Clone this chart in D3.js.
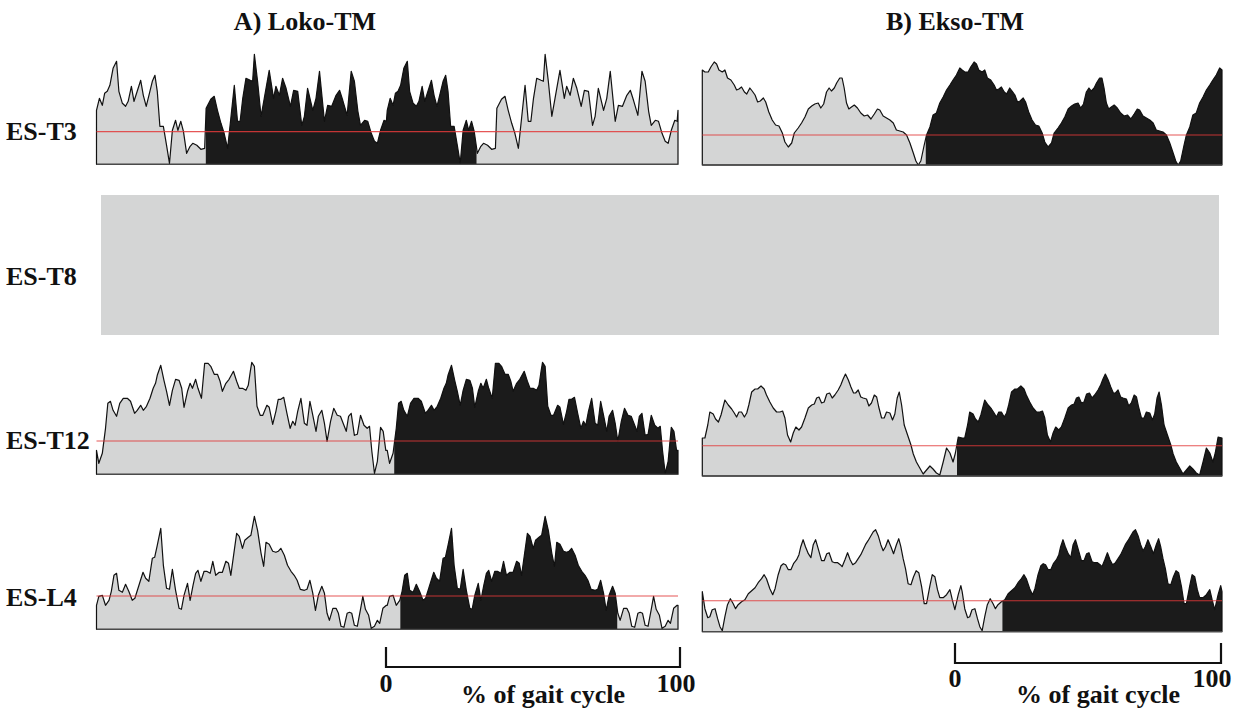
<!DOCTYPE html>
<html>
<head>
<meta charset="utf-8">
<script src="https://cdn.jsdelivr.net/npm/d3@7"></script>
<style>
body { margin: 0; background: #fff; }
text { font-family: "Liberation Serif", "Times New Roman", serif; font-weight: bold; fill: #111; }
</style>
</head>
<body>
<svg class="fig" width="1234" height="709"></svg>
<script>
// one gait cycle per muscle, [% of gait cycle, EMG amplitude]
var lokoT3 = [[0,54],[1,66],[2,59],[2.8,71],[3.7,73],[4.6,79],[5.7,96],[6.9,103],[7.7,73],[8.9,61],[10,58],[10.9,63],[12,78],[12.9,63],[14,73],[15.2,84],[16.1,69],[17.1,58],[18.2,71],[19.2,83],[20.1,89],[20.9,73],[21.8,38],[23,38],[24.1,19],[25.1,1],[26.1,34],[27.2,44],[28,34],[29,43],[29.9,33],[31,11],[32.2,18],[33.1,21],[34.5,19],[35.9,15],[37.2,16],[37.7,56],[39.3,65],[40.5,68],[41.6,54],[42.8,41],[43.9,31],[45.1,16],[46.2,46],[47.4,79],[48.5,43],[49.4,43],[50.3,66],[51.4,86],[52.9,84],[53.7,83],[54.3,110],[55.4,83],[56.6,48],[57.7,66],[59.4,94],[60.9,66],[61.7,78],[62.9,69],[64,86],[65.2,76],[66.7,58],[67.8,74],[69.2,73],[70.6,39],[71.5,48],[72.6,76],[74.4,54],[75.5,66],[76.7,93],[78.4,43],[79.5,59],[80.9,58],[82.4,69],[83.6,74],[84.7,64],[86.2,49],[87.6,93],[88.7,83],[89.9,53],[90.8,39],[92.2,44],[93.3,43],[94.5,31],[95.6,23],[96.6,21],[97.7,34],[98.9,44],[99.7,43]];

var lokoT12 = [[0,24],[0.8,11],[2,21],[3.1,46],[3.9,71],[4.8,73],[5.7,64],[6.9,58],[8,71],[9.2,76],[10.6,76],[11.7,73],[13.1,61],[14,64],[15.2,69],[16.1,64],[17.2,68],[18.4,76],[19.5,86],[20.3,91],[20.9,99],[22.1,109],[23.2,94],[24.1,83],[25.1,69],[26.1,84],[27.2,95],[28.4,94],[29.3,86],[30.1,67],[31.3,83],[32.2,91],[33,86],[34.1,95],[34.9,86],[36.1,76],[37.2,111],[38.4,111],[39.3,108],[40.5,100],[41.6,100],[42.5,93],[43.3,83],[44.5,91],[45.6,95],[47.1,103],[48.2,93],[49.1,86],[50.2,86],[51.4,84],[52.2,89],[52.9,103],[53.4,112],[54.3,108],[55.2,68],[56.3,59],[57.2,59],[58.6,69],[59.4,67],[60.6,50],[61.7,63],[62.5,75],[63.4,75],[64.4,77],[65.5,61],[66.6,46],[67.5,53],[68.3,49],[69.2,63],[70.3,76],[71.5,51],[72.4,49],[73.4,73],[74.4,59],[75.5,43],[76.3,58],[77.5,64],[78.4,51],[79.3,33],[80.5,53],[81.6,66],[82.8,59],[83.9,58],[85.1,49],[85.9,43],[86.7,58],[87.6,61],[88.7,39],[89.7,40],[90.8,59],[92,49],[93.1,46],[93.9,48],[94.7,23],[95.6,1],[96.6,13],[97.7,47],[98.6,43],[99.5,24]];

var lokoL4 = [[0,24],[0.8,33],[2,34],[3.1,24],[4.3,29],[5.1,38],[6,54],[6.9,56],[7.7,39],[8.9,37],[10,45],[11.1,38],[12.3,29],[13.2,31],[14.6,44],[16,57],[16.9,51],[18,48],[19.2,71],[20,72],[20.9,84],[22.1,101],[23,64],[24.1,41],[25.1,40],[26.1,60],[27.2,39],[28.4,21],[29.2,20],[30.1,34],[31.3,46],[32.2,29],[33.2,44],[34.1,56],[34.9,59],[35.9,48],[37,58],[37.9,58],[39.1,56],[40,68],[41,54],[42.2,57],[43.3,57],[44.5,68],[45.4,66],[46.2,54],[47.1,73],[48.2,96],[49.1,93],[50.2,81],[51,89],[52.2,92],[53.1,94],[54.3,113],[55.4,99],[56.6,76],[57.5,63],[58.3,87],[59.4,85],[60.6,78],[61.7,77],[62.5,78],[63.4,81],[64.6,74],[65.7,64],[66.9,58],[68,54],[69,49],[70.1,40],[71.5,39],[72.4,40],[73.4,49],[74.4,36],[75.3,19],[76.3,34],[77.5,43],[78.4,36],[79.3,16],[80.1,9],[81.3,21],[82.4,21],[83.2,16],[84.1,3],[85.1,2],[86.2,16],[87,17],[87.8,16],[88.7,4],[89.7,3],[90.8,20],[91.6,33],[92.5,20],[93.6,14],[94.5,1],[95.6,3],[96.6,9],[97.4,6],[98.5,21],[99.7,24]];

var eksoT3 = [[0,95],[1,93],[2.3,93],[3.3,98],[4.6,103],[5.5,101],[6.4,95],[7.7,93],[8.7,95],[9.7,87],[11,85],[12.3,80],[13.2,75],[14.1,76],[15.1,78],[16.2,73],[17.1,71],[18.3,77],[19.2,74],[20.3,70],[21.3,63],[22.3,64],[23.5,67],[24.4,63],[25.6,53],[26.9,45],[28.2,40],[29.5,39],[30.8,32],[31.8,23],[33.1,18],[34.4,22],[35.4,32],[36.9,37],[38.2,42],[39.5,48],[40.8,56],[42.1,59],[43.3,61],[44.6,62],[45.6,57],[46.7,61],[47.8,73],[48.8,77],[49.7,74],[50.8,77],[51.7,82],[52.9,87],[53.8,87],[54.6,77],[55.5,62],[56.4,56],[57.4,58],[58.5,60],[59.7,57],[61,52],[62.3,49],[63.6,50],[64.9,46],[66.2,51],[67.4,56],[68.3,55],[69.6,49],[70.9,47],[72.2,45],[73.5,42],[74.7,35],[76,34],[77.3,33],[78.6,30],[79.9,22],[81.2,12],[82.2,4],[83.1,0],[84.1,4],[85.4,20],[86.3,30],[87.6,38],[88.8,50],[90.1,52],[91.4,62],[92.7,68],[94,75],[95.3,80],[96.5,85],[97.8,90],[99.1,97]];

var eksoT12 = [[0,38],[1,38],[2.1,51],[2.9,64],[4.2,62],[5.1,57],[6.2,54],[7.2,61],[8.7,76],[10,71],[11.3,67],[12.3,63],[13.2,59],[14.1,64],[15.1,64],[16.2,59],[17.1,63],[17.9,71],[19,84],[20.3,87],[21.3,87],[22.6,90],[23.8,87],[24.7,81],[26,74],[27.3,68],[28.6,64],[29.9,64],[30.9,65],[31.8,58],[32.8,41],[34,34],[35,43],[36,49],[37.2,46],[38.2,49],[39.5,58],[40.8,68],[42.1,71],[43.1,72],[44,78],[44.9,79],[45.9,73],[46.9,74],[47.9,82],[49,83],[50,78],[51,81],[52.3,86],[53.3,91],[54.2,97],[55.1,102],[56.2,96],[57.2,89],[58.2,83],[59,83],[60,86],[61,79],[61.9,78],[63.2,77],[64.1,70],[65.1,73],[66.2,81],[67.1,79],[67.9,69],[69,58],[70,58],[70.9,64],[72.2,63],[73.2,56],[74.1,62],[75,78],[75.8,84],[76.7,71],[77.7,51],[79,41],[80.3,31],[81.2,22],[82.4,14],[83.7,8],[85,2],[86.3,6],[87.6,10],[88.8,7],[90.1,3],[91.4,1],[92.7,14],[94,28],[95.3,23],[96.5,14],[97.4,23],[98.5,39]];

var eksoL4 = [[0,40],[1,23],[2.1,14],[2.9,15],[3.8,22],[4.9,23],[5.9,13],[6.8,5],[7.7,1],[8.7,15],[9.7,27],[10.8,33],[11.9,28],[12.8,23],[13.8,27],[15.1,30],[16.4,32],[17.7,38],[19,41],[20.3,44],[21.5,49],[22.8,53],[23.8,57],[24.7,53],[26,43],[27.1,37],[28,43],[29.2,57],[30.3,66],[31.2,68],[32.1,67],[33.1,62],[34.1,62],[35.1,68],[36.3,72],[37.2,77],[37.9,85],[38.8,92],[39.7,85],[40.8,78],[41.8,74],[42.7,87],[43.6,92],[44.6,83],[45.9,71],[46.9,71],[47.9,78],[48.8,79],[50,70],[51,69],[52.1,69],[53.1,67],[53.8,65],[54.9,72],[55.9,79],[56.9,72],[57.9,67],[59,69],[60,73],[61,77],[61.9,82],[62.8,87],[63.8,91],[64.9,96],[65.8,100],[66.7,102],[67.7,96],[68.7,87],[69.6,81],[70.5,85],[71.5,92],[72.6,85],[73.6,78],[74.7,87],[75.6,93],[76.4,85],[77.3,73],[78.2,63],[79.2,48],[80.3,47],[81.3,55],[82.3,61],[83.3,59],[84.4,45],[85.4,28],[86.3,28],[87.6,46],[88.5,57],[89.5,55],[90.5,42],[91.4,34],[92.7,34],[94,37],[95.3,42],[96.2,32],[97.2,22],[98.5,37],[99.5,46]];

// red reference level per trace (same units as the traces)
var refLevels = [32.7, 33.3, 33.3, 30, 30.3, 31];
// dark shaded phase, in % over the two plotted cycles (0-200)
var phaseFrom = [37.6, 102.4, 104.5, 86, 98, 115.5];
var phaseTo = [130.7, 200, 179.1, 200, 200, 200];

var titles = ["A) Loko-TM", "B) Ekso-TM"];
var rowNames = ["ES-T3", "ES-T8", "ES-T12", "ES-L4"];
var barTicks = [0, 100];

var svg = d3.select(".fig");
var grey = "#d4d5d5", dark = "#1b1b1b";

var cols = [
  {x0: 96.5, x1: 678, title: 305, bar: [386, 680], barY: 667, labelY: 692, endShift: 4},
  {x0: 702.3, x1: 1222, title: 955, bar: [955, 1221], barY: 663, labelY: 687, endShift: 9}
];

var panels = [
  {data: lokoT3, col: 0, base: 164.3},
  {data: lokoT12, col: 0, base: 474.3},
  {data: lokoL4, col: 0, base: 629.3},
  {data: eksoT3, col: 1, base: 165},
  {data: eksoT12, col: 1, base: 476},
  {data: eksoL4, col: 1, base: 631.7}
];

var defs = svg.append("defs");

panels.forEach(function(p, i) {
  var c = cols[p.col];
  var x = d3.scaleLinear().domain([0, 200]).range([c.x0, c.x1]);
  var y = d3.scaleLinear().domain([0, 120]).range([p.base, p.base - 120]);

  // two gait cycles one after the other
  var series = p.data.map(function(d) { return [d[0], d[1]]; })
    .concat(p.data.map(function(d) { return [d[0] + 100, d[1]]; }))
    .concat([[200, p.data[0][1]]]);

  var area = d3.area()
    .x(function(d) { return x(d[0]); })
    .y0(y(0))
    .y1(function(d) { return y(d[1]); });

  var g = svg.append("g");

  g.append("path").datum(series)
    .attr("fill", grey)
    .attr("d", area);

  defs.append("clipPath").attr("id", "ph" + i)
    .append("rect")
      .attr("x", x(phaseFrom[i]))
      .attr("width", x(phaseTo[i]) - x(phaseFrom[i]))
      .attr("y", y(130))
      .attr("height", y(0) - y(130));

  g.append("path").datum(series)
    .attr("fill", dark)
    .attr("clip-path", "url(#ph" + i + ")")
    .attr("d", area);

  g.append("path").datum(series)
    .attr("fill", "none")
    .attr("stroke", "#111")
    .attr("stroke-width", 1.2)
    .attr("stroke-linejoin", "round")
    .attr("d", area);

  g.append("line")
    .attr("x1", x(0)).attr("x2", x(200))
    .attr("y1", y(0)).attr("y2", y(0))
    .attr("stroke", "#4a4a4a")
    .attr("stroke-width", 1.3);

  g.append("line")
    .attr("x1", x(0)).attr("x2", x(200))
    .attr("y1", y(refLevels[i])).attr("y2", y(refLevels[i]))
    .attr("stroke", "#e23a3a")
    .attr("stroke-opacity", 0.85)
    .attr("stroke-width", 1.1);
});

// ES-T8: no recording, grey block over both columns
svg.append("rect")
  .attr("x", 101).attr("y", 195)
  .attr("width", 1118).attr("height", 140)
  .attr("fill", grey);

// column titles
svg.selectAll(".title").data(titles).enter().append("text")
  .attr("class", "title")
  .attr("x", function(d, i) { return cols[i].title; })
  .attr("y", 30)
  .attr("text-anchor", "middle")
  .attr("font-size", 26)
  .text(function(d) { return d; });

// row names
var rowY = [140, 285, 449, 606];
svg.selectAll(".row").data(rowNames).enter().append("text")
  .attr("class", "row")
  .attr("x", 6)
  .attr("y", function(d, i) { return rowY[i]; })
  .attr("font-size", 26)
  .text(function(d) { return d; });

// gait cycle scale bars
cols.forEach(function(c) {
  var s = d3.scaleLinear().domain([0, 100]).range(c.bar);
  var b = svg.append("g");
  b.append("path")
    .attr("d", "M" + s(0) + "," + (c.barY - 20) + "V" + c.barY + "H" + s(100) + "V" + (c.barY - 20))
    .attr("fill", "none")
    .attr("stroke", "#111")
    .attr("stroke-width", 2.2);
  b.selectAll("text.tk").data(barTicks).enter().append("text")
    .attr("class", "tk")
    .attr("x", function(d) { return s(d) - (d === 100 ? c.endShift : 0); })
    .attr("y", c.labelY)
    .attr("text-anchor", "middle")
    .attr("font-size", 26)
    .text(function(d) { return d; });
  b.append("text")
    .attr("x", (s(0) + s(100)) / 2 + 10)
    .attr("y", 703)
    .attr("text-anchor", "middle")
    .attr("font-size", 26)
    .text("% of gait cycle");
});
</script>
</body>
</html>
